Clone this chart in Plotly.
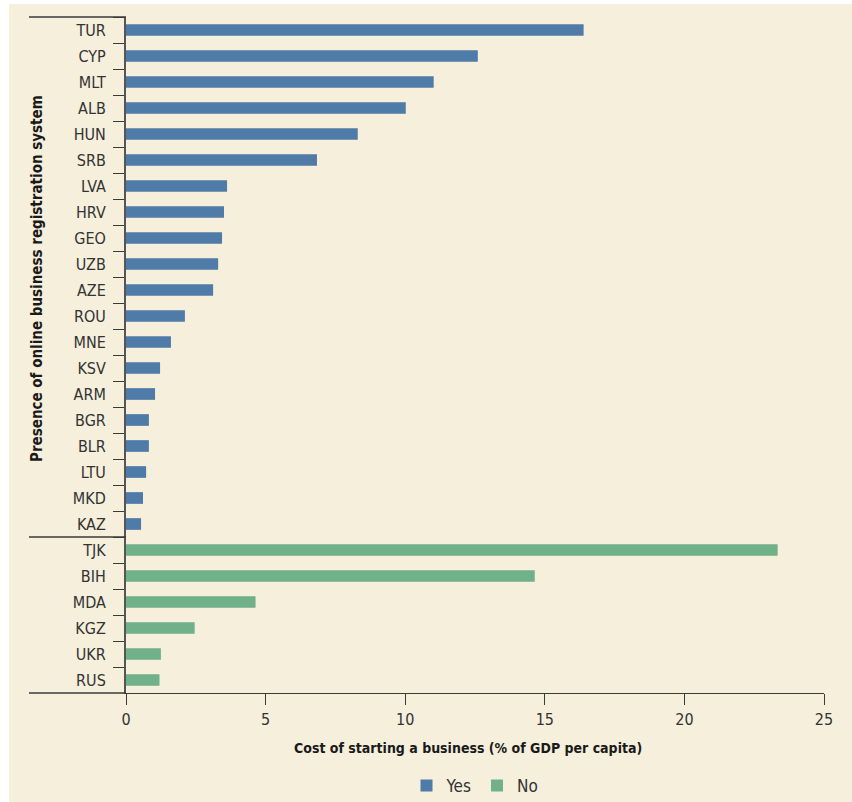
import plotly.graph_objects as go

yes_countries = ["TUR", "CYP", "MLT", "ALB", "HUN", "SRB", "LVA", "HRV", "GEO", "UZB",
                 "AZE", "ROU", "MNE", "KSV", "ARM", "BGR", "BLR", "LTU", "MKD", "KAZ"]
yes_values = [16.39, 12.60, 11.02, 10.02, 8.30, 6.84, 3.62, 3.51, 3.44, 3.30,
              3.12, 2.11, 1.61, 1.22, 1.04, 0.82, 0.82, 0.72, 0.61, 0.54]
no_countries = ["TJK", "BIH", "MDA", "KGZ", "UKR", "RUS"]
no_values = [23.34, 14.64, 4.64, 2.46, 1.25, 1.20]

x_ticks = [0, 5, 10, 15, 20, 25]
x_title = "Cost of starting a business (% of GDP per capita)"
y_title = "Presence of online business registration system"

FONT = "DejaVu Sans Condensed, Liberation Sans Narrow, sans-serif"
CREAM = "#F5EFDC"
BLUE = "#4F7BA9"
GREEN = "#70B189"
LINE = "#3a3a3a"

W, H = 852, 802
ML, MR, MT, MB = 126, 28, 17, 109
PW, PH = W - ML - MR, H - MT - MB

def px_x(p):
    return (p - ML) / PW

def px_y(p):
    return (H - MB - p) / PH

fig = go.Figure()
fig.add_trace(go.Bar(y=yes_countries, x=yes_values, orientation="h", name="Yes",
                     marker=dict(color=BLUE, line=dict(width=0))))
fig.add_trace(go.Bar(y=no_countries, x=no_values, orientation="h", name="No",
                     marker=dict(color=GREEN, line=dict(width=0))))

cats = yes_countries + no_countries

shapes = [
    dict(type="rect", xref="paper", yref="paper", x0=px_x(9), x1=px_x(860),
         y0=px_y(810), y1=px_y(4), fillcolor=CREAM, line=dict(width=0), layer="below"),
    dict(type="line", xref="paper", yref="paper", x0=px_x(29), x1=0, y0=1, y1=1,
         line=dict(color=LINE, width=1.3)),
    dict(type="line", xref="paper", yref="y", x0=px_x(29), x1=0,
         y0=len(yes_countries) - 0.5, y1=len(yes_countries) - 0.5,
         line=dict(color=LINE, width=1.3)),
    dict(type="line", xref="paper", yref="paper", x0=px_x(29), x1=0, y0=0, y1=0,
         line=dict(color=LINE, width=1.3)),
]

annotations = [
    dict(text=x_title, xref="paper", yref="paper", x=px_x(468), y=px_y(748),
         xanchor="center", yanchor="middle", showarrow=False,
         font=dict(family=FONT, size=14, color="#1a1a1a", weight="bold")),
    dict(text=y_title, xref="paper", yref="paper", x=px_x(37), y=px_y(279),
         xanchor="center", yanchor="middle", showarrow=False, textangle=-90,
         font=dict(family=FONT, size=15, color="#1a1a1a", weight="bold")),
]

fig.update_layout(
    width=W, height=H,
    margin=dict(l=ML, r=MR, t=MT, b=MB, pad=0, autoexpand=False),
    paper_bgcolor="white",
    plot_bgcolor="rgba(0,0,0,0)",
    barmode="relative",
    bargap=0.55,
    font=dict(family=FONT, size=16, color="#333333"),
    shapes=shapes,
    annotations=annotations,
    showlegend=True,
    legend=dict(orientation="h", xref="container", yref="container",
                x=475 / W, y=(H - 786) / H, xanchor="center",
                yanchor="middle", bgcolor="rgba(0,0,0,0)",
                font=dict(family=FONT, size=17, color="#333333"),
                tracegroupgap=0),
    xaxis=dict(range=[0, 25], tickvals=x_ticks, ticktext=[str(v) for v in x_ticks],
               showgrid=False, zeroline=False, showline=True, linecolor=LINE,
               linewidth=1.3, ticks="outside", ticklen=11, tickcolor=LINE,
               tickwidth=1.3, ticklabelstandoff=1,
               tickfont=dict(family=FONT, size=16, color="#333333"),
               fixedrange=True),
    yaxis=dict(type="category", categoryorder="array", categoryarray=cats,
               autorange="reversed", showgrid=False, zeroline=False, showline=True,
               linecolor="#555555", linewidth=2, ticks="outside", ticklen=11,
               tickcolor=LINE, tickwidth=1.3, tickson="boundaries",
               ticklabelstandoff=15,
               tickfont=dict(family=FONT, size=16, color="#333333"),
               fixedrange=True),
)

fig.write_html("out.html", config={"displayModeBar": False},
               post_script="document.body.style.margin='0';document.body.style.padding='0';")
